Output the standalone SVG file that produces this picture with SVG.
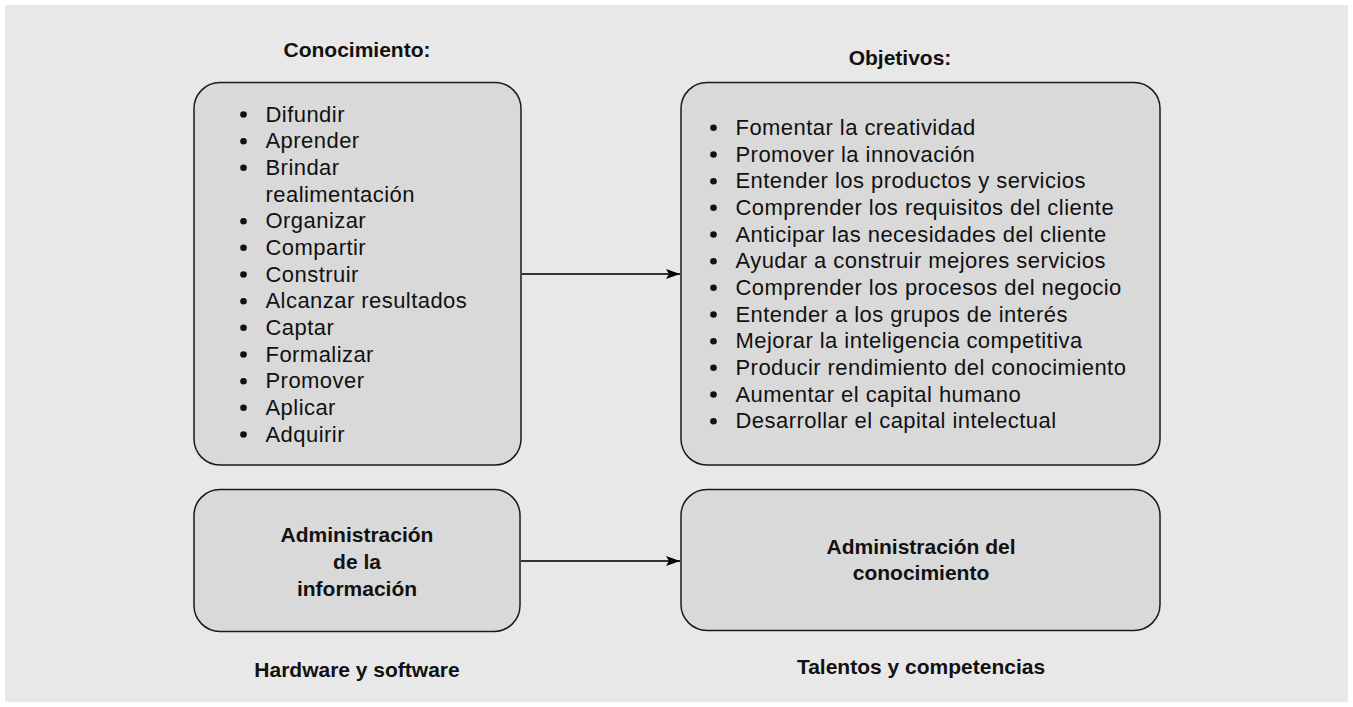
<svg xmlns="http://www.w3.org/2000/svg" width="1353" height="707" viewBox="0 0 1353 707">
<style>
.box{fill:#d9d9d9;stroke:#1a1a1a;stroke-width:1.5}
.t{font-family:"Liberation Sans",Arial,sans-serif;font-size:22px;letter-spacing:0.45px;fill:#111}
.b{font-family:"Liberation Sans",Arial,sans-serif;font-size:21px;font-weight:bold;fill:#111;text-anchor:middle}
.bul{fill:#111}
.con{stroke:#333;stroke-width:2;fill:none}
</style>
<defs>
<marker id="ah" markerWidth="14" markerHeight="10" refX="14" refY="5" orient="auto" markerUnits="userSpaceOnUse">
<path d="M0,0 L14,5 L0,10 L3,5 Z" fill="#000"/>
</marker>
</defs>
<rect x="0" y="0" width="1353" height="707" fill="#ffffff"/>
<rect x="5" y="5" width="1343" height="697" fill="#e8e8e8"/>

<g id="titles">
<text class="b" x="357" y="57">Conocimiento:</text>
<text class="b" x="900" y="65">Objetivos:</text>
<text class="b" x="357" y="677">Hardware y software</text>
<text class="b" x="921" y="674">Talentos y competencias</text>
</g>

<g id="node-conocimiento">
<rect class="box" x="194" y="82.5" width="327" height="382.5" rx="26"/>
<g class="t">
<text x="265.5" y="121.7">Difundir</text>
<text x="265.5" y="148.3">Aprender</text>
<text x="265.5" y="175">Brindar</text>
<text x="265.5" y="201.7">realimentación</text>
<text x="265.5" y="228.3">Organizar</text>
<text x="265.5" y="255">Compartir</text>
<text x="265.5" y="281.7">Construir</text>
<text x="265.5" y="308.3">Alcanzar resultados</text>
<text x="265.5" y="335">Captar</text>
<text x="265.5" y="361.7">Formalizar</text>
<text x="265.5" y="388.3">Promover</text>
<text x="265.5" y="415">Aplicar</text>
<text x="265.5" y="441.7">Adquirir</text>
</g>
<g class="bul">
<circle cx="243.5" cy="114.5" r="3.3"/>
<circle cx="243.5" cy="141.2" r="3.3"/>
<circle cx="243.5" cy="167.8" r="3.3"/>
<circle cx="243.5" cy="221.2" r="3.3"/>
<circle cx="243.5" cy="247.8" r="3.3"/>
<circle cx="243.5" cy="274.5" r="3.3"/>
<circle cx="243.5" cy="301.2" r="3.3"/>
<circle cx="243.5" cy="327.8" r="3.3"/>
<circle cx="243.5" cy="354.5" r="3.3"/>
<circle cx="243.5" cy="381.2" r="3.3"/>
<circle cx="243.5" cy="407.8" r="3.3"/>
<circle cx="243.5" cy="434.5" r="3.3"/>
</g>
</g>

<g id="node-objetivos">
<rect class="box" x="681" y="82.5" width="479" height="382.5" rx="26"/>
<g class="t">
<text x="735.5" y="135">Fomentar la creatividad</text>
<text x="735.5" y="161.7">Promover la innovación</text>
<text x="735.5" y="188.3">Entender los productos y servicios</text>
<text x="735.5" y="215">Comprender los requisitos del cliente</text>
<text x="735.5" y="241.7">Anticipar las necesidades del cliente</text>
<text x="735.5" y="268.3">Ayudar a construir mejores servicios</text>
<text x="735.5" y="295">Comprender los procesos del negocio</text>
<text x="735.5" y="321.7">Entender a los grupos de interés</text>
<text x="735.5" y="348.3">Mejorar la inteligencia competitiva</text>
<text x="735.5" y="375">Producir rendimiento del conocimiento</text>
<text x="735.5" y="401.7">Aumentar el capital humano</text>
<text x="735.5" y="428.3">Desarrollar el capital intelectual</text>
</g>
<g class="bul">
<circle cx="713.5" cy="127.8" r="3.3"/>
<circle cx="713.5" cy="154.5" r="3.3"/>
<circle cx="713.5" cy="181.2" r="3.3"/>
<circle cx="713.5" cy="207.8" r="3.3"/>
<circle cx="713.5" cy="234.5" r="3.3"/>
<circle cx="713.5" cy="261.2" r="3.3"/>
<circle cx="713.5" cy="287.8" r="3.3"/>
<circle cx="713.5" cy="314.5" r="3.3"/>
<circle cx="713.5" cy="341.2" r="3.3"/>
<circle cx="713.5" cy="367.8" r="3.3"/>
<circle cx="713.5" cy="394.5" r="3.3"/>
<circle cx="713.5" cy="421.2" r="3.3"/>
</g>
</g>

<g id="node-admin-info">
<rect class="box" x="194" y="489.5" width="326" height="142" rx="26"/>
<text class="b" x="357" y="542">Administración</text>
<text class="b" x="357" y="569">de la</text>
<text class="b" x="357" y="596">información</text>
</g>

<g id="node-admin-conoc">
<rect class="box" x="681" y="489.5" width="479" height="141" rx="26"/>
<text class="b" x="921" y="554">Administración del</text>
<text class="b" x="921" y="580">conocimiento</text>
</g>

<g id="connectors">
<line class="con" x1="522" y1="274" x2="680" y2="274" marker-end="url(#ah)"/>
<line class="con" x1="521" y1="561" x2="680" y2="561" marker-end="url(#ah)"/>
</g>
</svg>
